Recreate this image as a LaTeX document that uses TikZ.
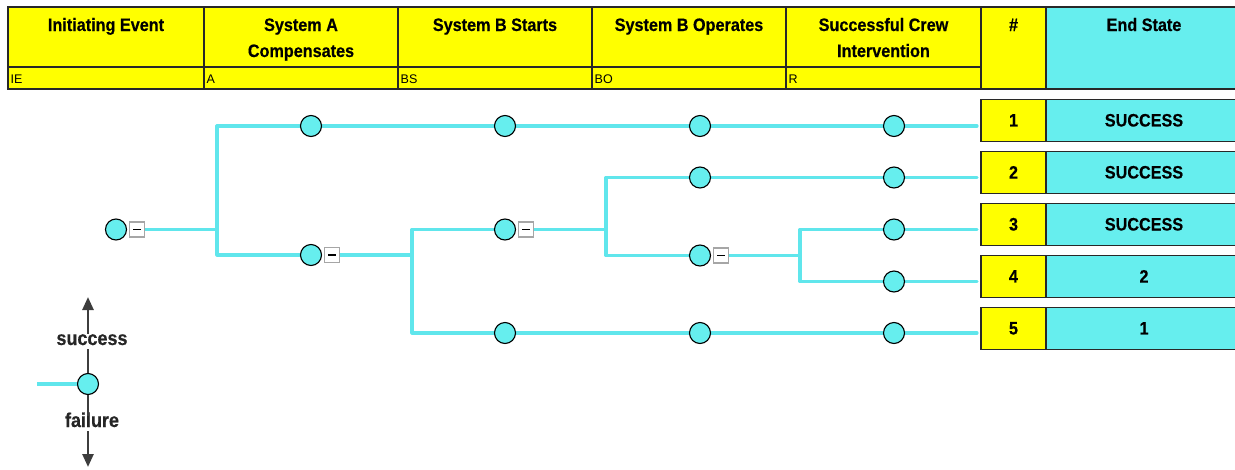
\documentclass[tikz,border=0pt]{standalone}
\usepackage{fontspec}
\setmainfont{Liberation Sans}
\newfontfamily\hfont[FakeStretch=0.9,BoldFeatures={FakeBold=0.4}]{Liberation Sans}
\usetikzlibrary{arrows.meta,backgrounds}
\definecolor{ycol}{RGB}{255,255,0}
\definecolor{ccol}{RGB}{102,238,238}
\definecolor{lcol}{RGB}{96,230,236}
\definecolor{bcol}{RGB}{40,40,40}
\begin{document}
\begin{tikzpicture}[x=1pt,y=-1pt,
 cell/.style={draw=bcol,line width=1.2pt},
 htitle/.style={anchor=base,inner sep=0pt,font=\hfont\bfseries\fontsize{18}{20}\selectfont},
 hsub/.style={anchor=base west,inner sep=0pt,font=\fontsize{12.5}{14}\selectfont},
 numbox/.style={draw=bcol,line width=1.2pt,fill=ycol,minimum width=65pt,minimum height=42pt,inner sep=0pt,font=\hfont\bfseries\fontsize{18}{20}\selectfont},
 esbox/.style={numbox,fill=ccol,minimum width=196pt},
 ev/.style={circle,draw=black,line width=1.1pt,fill=ccol,minimum size=21pt,inner sep=0pt},
 mbox/.style={draw=gray!70,line width=1.2pt,fill=white,minimum size=15pt,inner sep=0pt,
   path picture={\draw[black,line width=1.3pt] ([xshift=-4pt]path picture bounding box.center) -- ([xshift=4pt]path picture bounding box.center);}},
 br/.style={draw=lcol,line width=3.2pt,line join=round,line cap=round},
 leg/.style={draw=bcol!90,line width=2.6pt},
 legtxt/.style={font=\hfont\bfseries\fontsize{20}{22}\selectfont,text=black!85,text height=0.72em,text depth=0pt,inner xsep=0pt,inner ysep=4pt}
]
\useasboundingbox (0,0) rectangle (1235,469);

% header
\fill[ycol] (8,7) rectangle (1046,89);
\fill[ccol] (1046,7) rectangle (1242,89);
\draw[cell] (8,7) rectangle (1242,89);
\foreach \x in {204,398,592,786,981,1046} \draw[cell] (\x,7) -- (\x,89);
\draw[cell] (8,67) -- (981,67);

\node[htitle] (tIE) at (106,31) {Initiating Event};
\node[htitle] (tA1) at (301,31) {System A};
\node[htitle] (tA2) at (301,57) {Compensates};
\node[htitle] (tBS) at (495,31) {System B Starts};
\node[htitle] (tBO) at (689,31) {System B Operates};
\node[htitle] (tR1) at (883.5,31) {Successful Crew};
\node[htitle] (tR2) at (883.5,57) {Intervention};
\node[htitle] (tN) at (1013.5,31) {\#};
\node[htitle] (tES) at (1144,31) {End State};

\node[hsub] (sIE) at (10.5,83.5) {IE};
\node[hsub] (sA) at (206.5,83.5) {A};
\node[hsub] (sBS) at (400.5,83.5) {BS};
\node[hsub] (sBO) at (594.5,83.5) {BO};
\node[hsub] (sR) at (788.5,83.5) {R};

% end states
\foreach \i/\es [count=\k from 0] in {1/SUCCESS,2/SUCCESS,3/SUCCESS,4/2,5/1}{
  \node[numbox] (n\i) at (1013.5,120.3+52*\k) {\i};
  \node[esbox] (e\i) at (1144,120.3+52*\k) {\es};
}

% tree nodes
\node[ev] (ie) at (116,229.5) {};
\node[mbox] (mie) at (137,229.5) {};
\coordinate (j0) at (217,229.5);
\coordinate (j0t) at (217,126);
\coordinate (j0b) at (217,255);

\node[ev] (a1) at (311,126) {};
\node[ev] (b1) at (505,126) {};
\node[ev] (o1) at (700,126) {};
\node[ev] (r1) at (894,126) {};
\coordinate (t1) at (977,126);

\node[ev] (a2) at (311,255) {};
\node[mbox] (ma2) at (332,255) {};
\coordinate (j1) at (412,255);
\coordinate (j1t) at (412,229.5);
\coordinate (j1b) at (412,333);

\node[ev] (b2) at (505,229.5) {};
\node[mbox] (mb2) at (526,229.5) {};
\coordinate (j2) at (606,229.5);
\coordinate (j2t) at (606,177.5);
\coordinate (j2b) at (606,255.5);

\node[ev] (o2) at (700,177.5) {};
\node[ev] (r2) at (894,177.5) {};
\coordinate (t2) at (977,177.5);

\node[ev] (o3) at (700,255.5) {};
\node[mbox] (mo3) at (721,255.5) {};
\coordinate (j3) at (800,255.5);
\coordinate (j3t) at (800,229.5);
\coordinate (j3b) at (800,281.5);

\node[ev] (r3) at (894,229.5) {};
\coordinate (t3) at (977,229.5);
\node[ev] (r4) at (894,281.5) {};
\coordinate (t4) at (977,281.5);

\node[ev] (b5) at (505,333) {};
\node[ev] (o5) at (700,333) {};
\node[ev] (r5) at (894,333) {};
\coordinate (t5) at (977,333);

\begin{scope}[on background layer]
\draw[br] (mie) -- (j0);
\draw[br] (a1) -- (j0t) -- (j0b) -- (a2);
\draw[br] (a1) -- (b1) -- (o1) -- (r1) -- (t1);
\draw[br] (ma2) -- (j1);
\draw[br] (b2) -- (j1t) -- (j1b) -- (b5);
\draw[br] (mb2) -- (j2);
\draw[br] (o2) -- (j2t) -- (j2b) -- (o3);
\draw[br] (o2) -- (r2) -- (t2);
\draw[br] (mo3) -- (j3);
\draw[br] (r3) -- (j3t) -- (j3b) -- (r4);
\draw[br] (r3) -- (t3);
\draw[br] (r4) -- (t4);
\draw[br] (b5) -- (o5) -- (r5) -- (t5);
\end{scope}

% legend
\node[ev] (lg) at (88,384) {};
\coordinate (lgin) at (37,384);
\draw[br,line cap=butt] (lgin) -- (lg);
\node[legtxt,anchor=base] (ls) at (92,345) {success};
\node[legtxt,anchor=base] (lf) at (92,427) {failure};
\coordinate (atop) at (88,297);
\coordinate (abot) at (88,467);
\draw[leg,-{Triangle[length=13pt,width=11pt]}] (ls.north -| atop) -- (atop);
\draw[leg] (ls.south -| lg) -- (lg);
\draw[leg] (lg) -- (lf.north -| lg);
\draw[leg,-{Triangle[length=13pt,width=11pt]}] (lf.south -| abot) -- (abot);
\end{tikzpicture}
\end{document}
